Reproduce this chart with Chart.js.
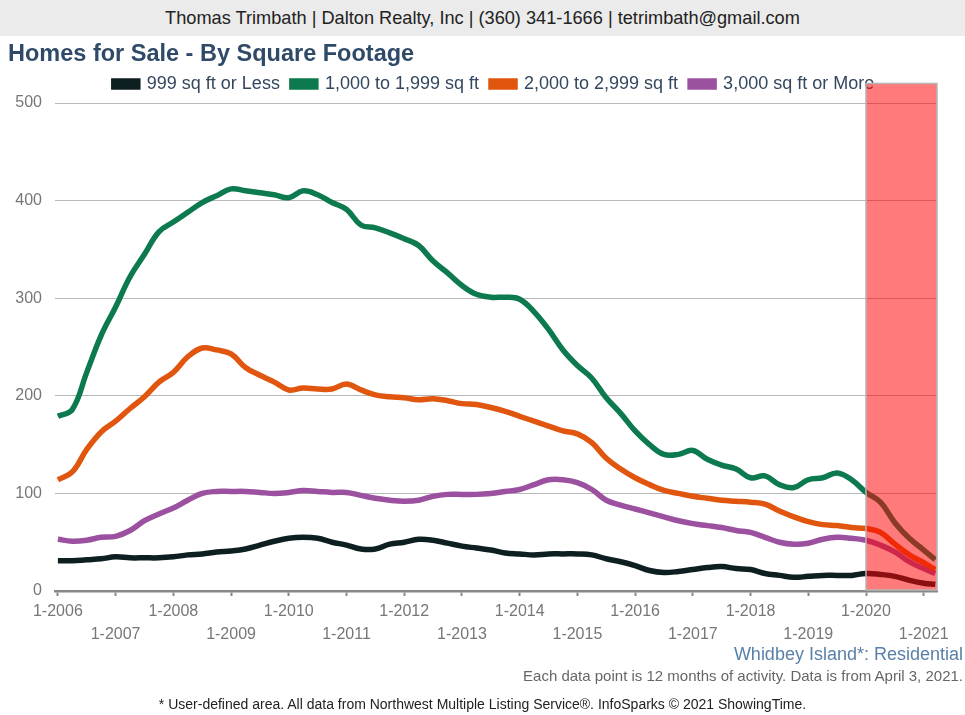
<!DOCTYPE html>
<html>
<head>
<meta charset="utf-8">
<script src="https://cdn.jsdelivr.net/npm/chart.js@4.4.1/dist/chart.umd.min.js"></script>
<style>
  html, body { margin: 0; padding: 0; background: #fff; }
  body { width: 965px; height: 715px; position: relative; overflow: hidden; font-family: "Liberation Sans", Arial, sans-serif; }
  #header { position: absolute; left: 0; top: 0; width: 965px; height: 36px; background: #ebebeb;
            text-align: center; line-height: 36px; font-size: 18.2px; color: #222; }
  #title { position: absolute; left: 8px; top: 38px; font-size: 23.5px; line-height: 30px; font-weight: bold; color: #2f4a68; }
  #wrap { position: absolute; left: 0; top: 0; width: 965px; height: 715px; }
  .note { position: absolute; right: 2px; white-space: nowrap; }
  #area { top: 643px; font-size: 18px; line-height: 22px; color: #5a7fa8; }
  #info { top: 667px; font-size: 15px; line-height: 18px; color: #666; }
  #src { position: absolute; left: 0; width: 965px; top: 695px; text-align: center; font-size: 14px; line-height: 18px; color: #222; }
</style>
</head>
<body>
<div id="wrap"><canvas id="chart" width="965" height="715"></canvas></div>
<div id="header">Thomas Trimbath | Dalton Realty, Inc | (360) 341-1666 | tetrimbath@gmail.com</div>
<div id="title">Homes for Sale - By Square Footage</div>
<div class="note" id="area">Whidbey Island*: Residential</div>
<div class="note" id="info">Each data point is 12 months of activity. Data is from April 3, 2021.</div>
<div id="src">* User-defined area. All data from Northwest Multiple Listing Service&reg;. InfoSparks &copy; 2021 ShowingTime.</div>
<script>
// quarterly reading points (decimal year)
const periods = [
  2006.00, 2006.25, 2006.50, 2006.75, 2007.00, 2007.25, 2007.50, 2007.75,
  2008.00, 2008.25, 2008.50, 2008.75, 2009.00, 2009.25, 2009.50, 2009.75,
  2010.00, 2010.25, 2010.50, 2010.75, 2011.00, 2011.25, 2011.50, 2011.75,
  2012.00, 2012.25, 2012.50, 2012.75, 2013.00, 2013.25, 2013.50, 2013.75,
  2014.00, 2014.25, 2014.50, 2014.75, 2015.00, 2015.25, 2015.50, 2015.75,
  2016.00, 2016.25, 2016.50, 2016.75, 2017.00, 2017.25, 2017.50, 2017.75,
  2018.00, 2018.25, 2018.50, 2018.75, 2019.00, 2019.25, 2019.50, 2019.75,
  2020.00, 2020.25, 2020.50, 2020.75, 2021.00, 2021.20
];

const seriesNames = ['999 sq ft or Less', '1,000 to 1,999 sq ft', '2,000 to 2,999 sq ft', '3,000 sq ft or More'];

const under1000 = [
  31, 31, 32, 33, 35, 34, 34, 34, 35, 37, 38, 40, 41, 43, 47, 51,
  54, 55, 54, 50, 47, 43, 43, 48, 50, 53, 52, 49, 46, 44, 42, 39,
  38, 37, 38, 38, 38, 37, 33, 30, 26, 21, 19, 20, 22, 24, 25, 23,
  22, 18, 16, 14, 15, 16, 16, 16, 18, 17, 15, 11, 8, 7
];
const from1000 = [
  179, 186, 224, 262, 291, 322, 345, 368, 378, 388, 398, 405, 412, 410, 408, 406,
  403, 410, 406, 398, 391, 375, 372, 367, 361, 354, 338, 326, 313, 304, 301, 301,
  299, 286, 268, 247, 231, 218, 198, 182, 164, 150, 140, 140, 144, 135, 129, 125,
  116, 118, 109, 106, 114, 116, 121, 114, 101, 91, 70, 54, 42, 32
];
const from2000 = [
  114, 122, 145, 163, 174, 187, 199, 214, 224, 240, 249, 247, 243, 229, 221, 214,
  206, 208, 207, 207, 212, 206, 201, 199, 198, 196, 197, 195, 192, 191, 188, 184,
  179, 174, 169, 164, 161, 152, 136, 125, 116, 109, 103, 100, 97, 95, 93, 92,
  91, 89, 82, 76, 71, 68, 67, 65, 64, 60, 48, 37, 29, 22
];
const over3000 = [
  53, 51, 52, 55, 56, 62, 72, 79, 85, 93, 100, 102, 102, 102, 101, 100,
  101, 103, 102, 101, 101, 98, 95, 93, 92, 93, 97, 99, 99, 99, 100, 102,
  104, 109, 114, 114, 111, 104, 93, 88, 84, 80, 76, 72, 69, 67, 65, 62,
  60, 55, 50, 48, 49, 53, 55, 54, 52, 47, 40, 30, 23, 18
];

const seriesColors = ['#0e1f22', '#0c7a4e', '#e0560f', '#9b519f'];
const xTickLabels = ['1-2006', '1-2007', '1-2008', '1-2009', '1-2010', '1-2011', '1-2012', '1-2013',
                     '1-2014', '1-2015', '1-2016', '1-2017', '1-2018', '1-2019', '1-2020', '1-2021'];
const yTicks = [0, 100, 200, 300, 400, 500];

// user-defined highlighted span
const shadeFrom = 2020;
const shadeTop = 520;

const toPoints = vals => vals.map((v, i) => ({ x: periods[i], y: v }));

const shadePlugin = {
  id: 'shade',
  afterLayout(chart) {
    // legend is centred over the plot, not the whole canvas
    const shift = (chart.chartArea.left + chart.chartArea.right) / 2 - (chart.legend.left + chart.legend.right) / 2 - 2;
    chart.legend.left += shift;
    chart.legend.right += shift;
  },
  afterDatasetsDraw(chart) {
    const { ctx, chartArea, scales } = chart;
    const x0 = scales.x.getPixelForValue(shadeFrom);
    const y0 = scales.y.getPixelForValue(shadeTop);
    const y1 = chartArea.bottom - 1;
    ctx.save();
    ctx.fillStyle = 'rgba(255, 0, 0, 0.52)';
    ctx.fillRect(x0, y0, chartArea.right - x0, y1 - y0);
    ctx.strokeStyle = '#b5b5b5';
    ctx.lineWidth = 1.5;
    ctx.strokeRect(x0, y0, chartArea.right - x0, y1 - y0);
    ctx.restore();
  }
};

const datasets = [under1000, from1000, from2000, over3000].map((vals, i) => ({
  label: seriesNames[i],
  data: toPoints(vals),
  borderColor: seriesColors[i],
  backgroundColor: seriesColors[i],
  borderWidth: 5.5,
  tension: 0.4,
  pointRadius: 0,
  fill: false
}));

new Chart(document.getElementById('chart'), {
  type: 'line',
  data: { datasets: datasets },
  options: {
    responsive: false,
    animation: false,
    layout: { padding: { top: 63, left: 0, right: 28, bottom: 65 } },
    plugins: {
      legend: {
        display: true,
        labels: {
          boxWidth: 24,
          boxHeight: 6,
          padding: 12,
          color: '#33475e',
          font: { family: 'Liberation Sans', size: 18 }
        }
      },
      tooltip: { enabled: false }
    },
    scales: {
      x: {
        type: 'linear',
        min: 2005.95,
        max: 2021.23,
        afterFit: axis => { axis.height = 59; },
        afterBuildTicks: axis => { axis.ticks = xTickLabels.map((_, i) => ({ value: 2006 + i })); },
        ticks: {
          autoSkip: false,
          maxRotation: 0,
          padding: 4,
          color: '#777',
          font: { family: 'Liberation Sans', size: 16, lineHeight: 1.4375 },
          callback: (v) => {
            const i = Math.round(v - 2006);
            return i % 2 === 0 ? [xTickLabels[i], ''] : ['', xTickLabels[i]];
          }
        },
        grid: { drawOnChartArea: false, drawTicks: true, tickLength: 5, tickColor: '#888', tickWidth: 2 },
        border: { color: '#888', width: 2.5 }
      },
      y: {
        min: 0,
        max: 500,
        afterFit: axis => { axis.width = 55; },
        afterBuildTicks: axis => { axis.ticks = yTicks.map(v => ({ value: v })); },
        ticks: { padding: 13, color: '#777', font: { family: 'Liberation Sans', size: 16 } },
        grid: { color: '#b8b8b8', lineWidth: 1, drawTicks: false },
        border: { display: false }
      }
    }
  },
  plugins: [shadePlugin]
});
</script>
</body>
</html>
